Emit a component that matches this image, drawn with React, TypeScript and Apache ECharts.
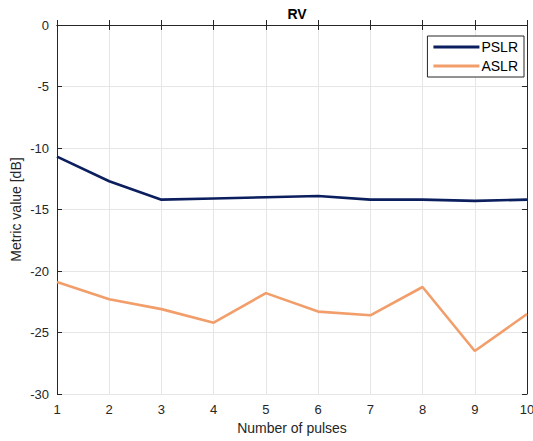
import React, { useEffect, useRef } from "react";
import * as echarts from "echarts";

const pulses = [1, 2, 3, 4, 5, 6, 7, 8, 9, 10];
const pslr = [-10.7, -12.7, -14.2, -14.1, -14.0, -13.9, -14.2, -14.2, -14.3, -14.2];
const aslr = [-20.9, -22.3, -23.1, -24.2, -21.8, -23.3, -23.6, -21.3, -26.5, -23.5];
const yTicks = [0, -5, -10, -15, -20, -25, -30];

const FONT = "Liberation Sans, Arial, Helvetica, sans-serif";
const TXT = "#262626";

export default function App() {
  const ref = useRef<HTMLDivElement>(null);
  useEffect(() => {
    if (!ref.current) return;
    const chart = echarts.init(ref.current, undefined, { renderer: "svg" });
    const axisLine = { show: true, lineStyle: { color: "#262626", width: 1 } };
    chart.setOption({
      animation: false,
      textStyle: { fontFamily: FONT },
      title: {
        text: "RV",
        left: 292,
        top: 2,
        textAlign: "center",
        textStyle: { fontSize: 14, fontWeight: "bold", color: "#000", fontFamily: FONT },
      },
      legend: {
        orient: "vertical",
        right: 9,
        top: 36,
        itemWidth: 46,
        itemHeight: 3,
        itemGap: 5,
        icon: "rect",
        padding: [4, 6, 4, 6],
        borderColor: "#262626",
        borderWidth: 1,
        backgroundColor: "#fff",
        textStyle: { fontSize: 14, color: "#000", fontFamily: FONT, padding: [0, 0, 0, -3] },
        data: ["PSLR", "ASLR"],
      },
      grid: { left: 57, right: 6, top: 25, bottom: 47, containLabel: false, outerBoundsMode: "none" },
      xAxis: [
        {
          type: "value",
          min: 1,
          max: 10,
          interval: 1,
          name: "Number of pulses",
          nameLocation: "middle",
          nameGap: 26,
          nameTextStyle: { fontSize: 14, color: TXT, fontFamily: FONT },
          axisLine,
          axisTick: { inside: true, length: 5, lineStyle: { color: "#262626" } },
          axisLabel: { fontSize: 13, color: TXT, margin: 9, fontFamily: FONT },
          splitLine: { show: true, lineStyle: { color: "#e6e6e6", width: 1 } },
        },
        {
          type: "value",
          position: "top",
          min: 1,
          max: 10,
          interval: 1,
          axisLine,
          axisTick: { inside: true, length: 5, lineStyle: { color: "#262626" } },
          axisLabel: { show: false },
          splitLine: { show: false },
        },
      ],
      yAxis: [
        {
          type: "value",
          min: -30,
          max: 0,
          interval: 5,
          name: "Metric value [dB]",
          nameLocation: "middle",
          nameGap: 34,
          nameMoveOverlap: false,
          nameTextStyle: { fontSize: 14, color: TXT, fontFamily: FONT },
          axisLine,
          axisTick: { inside: true, length: 5, lineStyle: { color: "#262626" } },
          axisLabel: {
            fontSize: 13,
            color: TXT,
            margin: 8,
            fontFamily: FONT,
            formatter: (v: number) => (yTicks.includes(v) ? String(v) : ""),
          },
          splitLine: { show: true, lineStyle: { color: "#e6e6e6", width: 1 } },
        },
        {
          type: "value",
          position: "right",
          min: -30,
          max: 0,
          interval: 5,
          axisLine,
          axisTick: { inside: true, length: 5, lineStyle: { color: "#262626" } },
          axisLabel: { show: false },
          splitLine: { show: false },
        },
      ],
      series: [
        {
          name: "PSLR",
          type: "line",
          data: pulses.map((p, i) => [p, pslr[i]]),
          symbol: "none",
          lineStyle: { color: "#0b1f5e", width: 2.6 },
          itemStyle: { color: "#0b1f5e" },
        },
        {
          name: "ASLR",
          type: "line",
          data: pulses.map((p, i) => [p, aslr[i]]),
          symbol: "none",
          lineStyle: { color: "#f29e6b", width: 2.6 },
          itemStyle: { color: "#f29e6b" },
        },
      ],
    });
    return () => chart.dispose();
  }, []);
  return <div ref={ref} style={{ width: 533, height: 441, position: "absolute", left: 0, top: 0, background: "#fff" }} />;
}
